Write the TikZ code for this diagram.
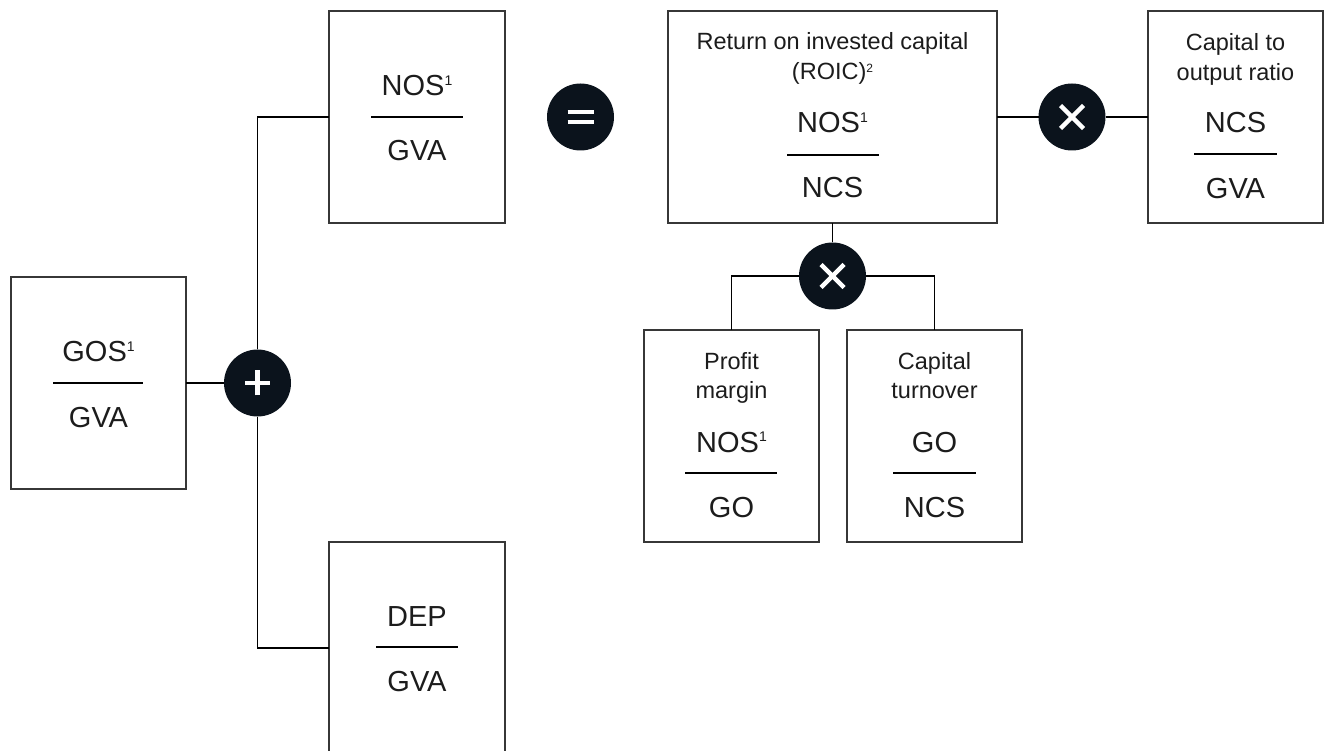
\documentclass[tikz,border=0pt]{standalone}
\usepackage{fontspec}
\setmainfont{Liberation Sans}
\definecolor{opfill}{RGB}{11,19,28}
\definecolor{boxgray}{RGB}{55,55,55}
\definecolor{txtcol}{RGB}{28,28,28}
\newcommand\supone[1]{\raisebox{10.5pt}{\fontsize{14}{14}\selectfont #1}}
\newcommand\suptwo[1]{\raisebox{7.5pt}{\fontsize{12}{12}\selectfont #1}}
\tikzset{
  box/.style={draw=boxgray, line width=1.4pt, minimum width=175pt, minimum height=212pt, inner sep=0pt, outer sep=0pt},
  opnode/.style={circle, fill=opfill, minimum size=67pt, inner sep=0pt, outer sep=0pt},
  conn/.style={draw=black, line width=1.3pt},
  fracline/.style={draw=black, line width=1.3pt},
  sym/.style={draw=white, line width=4.8pt},
  bigtxt/.style={font=\fontsize{29}{34}\selectfont, text=txtcol, anchor=base, inner sep=0pt},
  lbltxt/.style={font=\fontsize{23.5}{28}\selectfont, text=txtcol, anchor=base, inner sep=0pt}
}
\begin{document}
\begin{tikzpicture}[x=1pt,y=-1pt]
\useasboundingbox (0,0) rectangle (1326,751);
\clip (0,0) rectangle (1326,751);

% boxes
\node[box] (gos) at (98.5,383) {};
\node[box, minimum width=176pt] (nos) at (417,117) {};
\node[box, minimum width=176pt] (dep) at (417,648) {};
\node[box, minimum width=329pt] (roic) at (832.5,117) {};
\node[box] (cor) at (1235.5,117) {};
\node[box] (pm) at (731.5,436) {};
\node[box] (ct) at (934.5,436) {};

% operator circles
\node[opnode] (plus) at (257.5,383) {};
\node[opnode] (eq) at (580.5,117) {};
\node[opnode] (tr) at (1072,117) {};
\node[opnode] (tb) at (832.5,276) {};

% symbols
\draw[sym] ([xshift=-12.5pt]plus.center) -- ([xshift=12.5pt]plus.center);
\draw[sym] ([yshift=-12.5pt]plus.center) -- ([yshift=12.5pt]plus.center);
\draw[sym, line width=4.3pt] ([xshift=-13pt,yshift=4.8pt]eq.center) -- ([xshift=13pt,yshift=4.8pt]eq.center);
\draw[sym, line width=4.3pt] ([xshift=-13pt,yshift=-4.8pt]eq.center) -- ([xshift=13pt,yshift=-4.8pt]eq.center);
\foreach \o in {tr,tb}{
  \draw[sym, line width=4.3pt] ([xshift=-11.5pt,yshift=-11.5pt]\o.center) -- ([xshift=11.5pt,yshift=11.5pt]\o.center);
  \draw[sym, line width=4.3pt] ([xshift=-11.5pt,yshift=11.5pt]\o.center) -- ([xshift=11.5pt,yshift=-11.5pt]\o.center);
}

% connectors
\draw[conn] (gos.east) -- (plus.west);
\draw[conn] (plus.north) |- (nos.west);
\draw[conn] (plus.south) |- (dep.west);
\draw[conn] (roic.east) -- (tr.west);
\draw[conn] (tr.east) -- (cor.west);
\draw[conn] (roic.south) -- (tb.north);
\draw[conn] (tb.west) -| (pm.north);
\draw[conn] (tb.east) -| (ct.north);

% GOS / GVA
\node[bigtxt] (gosn) at (98.5,362) {GOS\supone{1}};
\draw[fracline] (53,383) -- (143,383);
\node[bigtxt] (gosd) at (98.5,427) {GVA};

% NOS / GVA
\node[bigtxt] (nosn) at (417,96) {NOS\supone{1}};
\draw[fracline] (371,117) -- (463,117);
\node[bigtxt] (nosd) at (417,161) {GVA};

% DEP / GVA
\node[bigtxt] (depn) at (417,626) {DEP};
\draw[fracline] (376,647) -- (458,647);
\node[bigtxt] (depd) at (417,691) {GVA};

% ROIC
\node[lbltxt] (roicl1) at (832.5,50) {Return on invested capital};
\node[lbltxt] (roicl2) at (832.5,80) {(ROIC)\suptwo{2}};
\node[bigtxt] (roicn) at (832.5,133) {NOS\supone{1}};
\draw[fracline] (787,155) -- (879,155);
\node[bigtxt] (roicd) at (832.5,198) {NCS};

% Capital to output ratio
\node[lbltxt] (corl1) at (1235.5,51) {Capital to};
\node[lbltxt] (corl2) at (1235.5,81) {output ratio};
\node[bigtxt] (corn) at (1235.5,133) {NCS};
\draw[fracline] (1194,154) -- (1277,154);
\node[bigtxt] (cord) at (1235.5,199) {GVA};

% Profit margin
\node[lbltxt] (pml1) at (731.5,370) {Profit};
\node[lbltxt] (pml2) at (731.5,399) {margin};
\node[bigtxt] (pmn) at (731.5,452) {NOS\supone{1}};
\draw[fracline] (685,473) -- (777,473);
\node[bigtxt] (pmd) at (731.5,517) {GO};

% Capital turnover
\node[lbltxt] (ctl1) at (934.5,370) {Capital};
\node[lbltxt] (ctl2) at (934.5,399) {turnover};
\node[bigtxt] (ctn) at (934.5,452) {GO};
\draw[fracline] (893,473) -- (976,473);
\node[bigtxt] (ctd) at (934.5,517) {NCS};
\end{tikzpicture}
\end{document}
